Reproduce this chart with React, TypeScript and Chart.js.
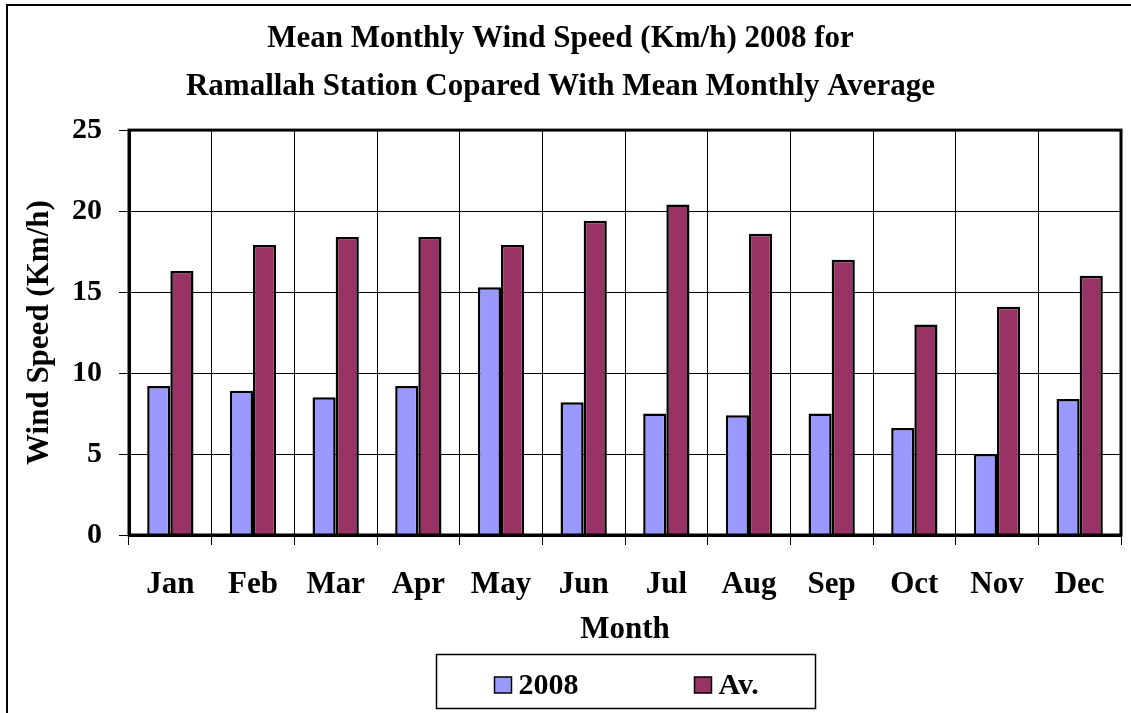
import React, { useEffect, useRef } from "react";
import { Chart, registerables } from "chart.js";

Chart.register(...registerables);

const months = ["Jan", "Feb", "Mar", "Apr", "May", "Jun", "Jul", "Aug", "Sep", "Oct", "Nov", "Dec"];
const wind2008 = [9.2, 8.9, 8.5, 9.2, 15.3, 8.2, 7.5, 7.4, 7.5, 6.6, 5.0, 8.4];
const windAvg = [16.3, 17.9, 18.4, 18.4, 17.9, 19.4, 20.4, 18.6, 17.0, 13.0, 14.1, 16.0];
const seriesLabels = ["2008", "Av."];
const titleLines = [
  "Mean Monthly Wind Speed (Km/h) 2008 for",
  "Ramallah Station Copared With Mean Monthly Average",
];
const yAxisTitle = "Wind Speed (Km/h)";
const xAxisTitle = "Month";
const yMin = 0;
const yMax = 25;
const yStep = 5;

const FONT = "'Liberation Serif', 'Times New Roman', serif";

const decorPlugin = {
  id: "decor",
  beforeDraw(chart: any) {
    const { ctx, width, height } = chart;
    ctx.save();
    ctx.fillStyle = "#ffffff";
    ctx.fillRect(0, 0, width, height);
    ctx.restore();
  },
  afterDraw(chart: any) {
    const { ctx, chartArea } = chart;
    const { left, top, right, bottom } = chartArea;
    ctx.save();
    // plot frame
    ctx.strokeStyle = "#000";
    ctx.lineWidth = 3;
    ctx.strokeRect(left, top, right - left, bottom - top);
    // outer chart frame (left and top edges visible)
    ctx.lineWidth = 2;
    ctx.beginPath();
    ctx.moveTo(7, chart.height + 5);
    ctx.lineTo(7, 5);
    ctx.lineTo(chart.width + 5, 5);
    ctx.stroke();

    // legend box
    const cx = (left + right) / 2;
    const boxW = 379;
    const boxH = 54;
    const boxL = Math.round(cx - boxW / 2) + 0.5;
    const boxT = 654.5;
    ctx.lineWidth = 1.5;
    ctx.strokeStyle = "#000";
    ctx.strokeRect(boxL, boxT, boxW, boxH);
    const offsets = [58, 258];
    ctx.font = `bold 30px ${FONT}`;
    ctx.textAlign = "left";
    ctx.textBaseline = "alphabetic";
    chart.data.datasets.forEach((ds: any, i: number) => {
      const sx = boxL + offsets[i];
      ctx.fillStyle = ds.backgroundColor;
      ctx.fillRect(sx, 677, 17, 16);
      ctx.lineWidth = 1.5;
      ctx.strokeStyle = "#000";
      ctx.strokeRect(sx, 677, 17, 16);
      ctx.fillStyle = "#000";
      ctx.fillText(ds.label, sx + 24, 694);
    });
    ctx.restore();
  },
};

export default function App() {
  const canvasRef = useRef<HTMLCanvasElement | null>(null);

  useEffect(() => {
    document.body.style.margin = "0";
    const canvas = canvasRef.current;
    if (!canvas) return;
    const chart = new Chart(canvas, {
      type: "bar",
      data: {
        labels: months,
        datasets: [
          {
            label: seriesLabels[0],
            data: wind2008,
            backgroundColor: "#9999FF",
            borderColor: "#000000",
            borderWidth: 2.5,
            categoryPercentage: 0.56,
            barPercentage: 1.0,
          },
          {
            label: seriesLabels[1],
            data: windAvg,
            backgroundColor: "#993366",
            borderColor: "#000000",
            borderWidth: 2.5,
            categoryPercentage: 0.56,
            barPercentage: 1.0,
          },
        ],
      },
      options: {
        responsive: false,
        animation: false,
        devicePixelRatio: 1,
        layout: { padding: { left: 0, right: 10, top: 0, bottom: 63 } },
        plugins: {
          legend: { display: false },
          tooltip: { enabled: false },
          title: {
            display: true,
            text: titleLines,
            color: "#000",
            font: { family: FONT, size: 31, weight: "bold", lineHeight: 1.55 },
            padding: { top: 15, bottom: 19 },
          },
        },
        scales: {
          x: {
            offset: true,
            grid: {
              display: true,
              offset: true,
              color: "#000",
              lineWidth: 1,
              drawTicks: true,
              tickLength: 10,
            },
            border: { display: true, color: "#000", width: 3 },
            ticks: {
              color: "#000",
              padding: 21,
              font: { family: FONT, size: 31, weight: "bold" },
              maxRotation: 0,
              autoSkip: false,
            },
            title: {
              display: true,
              text: xAxisTitle,
              color: "#000",
              font: { family: FONT, size: 31, weight: "bold" },
              padding: { top: 0, bottom: 1 },
            },
            afterFit(scale: any) {
              scale.height = 115;
            },
          },
          y: {
            min: yMin,
            max: yMax,
            grid: {
              color: "#000",
              lineWidth: 1,
              drawTicks: true,
              tickLength: 10,
            },
            border: { display: true, color: "#000", width: 3 },
            ticks: {
              stepSize: yStep,
              color: "#000",
              padding: 17,
              font: { family: FONT, size: 30, weight: "bold" },
            },
            title: {
              display: true,
              text: yAxisTitle,
              color: "#000",
              font: { family: FONT, size: 31, weight: "bold" },
              padding: { top: 21, bottom: 0 },
            },
            afterFit(scale: any) {
              scale.width = 129;
            },
          },
        },
      },
      plugins: [decorPlugin],
    });
    return () => chart.destroy();
  }, []);

  return (
    <div style={{ width: 1131, height: 713 }}>
      <canvas ref={canvasRef} width={1131} height={713} style={{ display: "block" }} />
    </div>
  );
}
